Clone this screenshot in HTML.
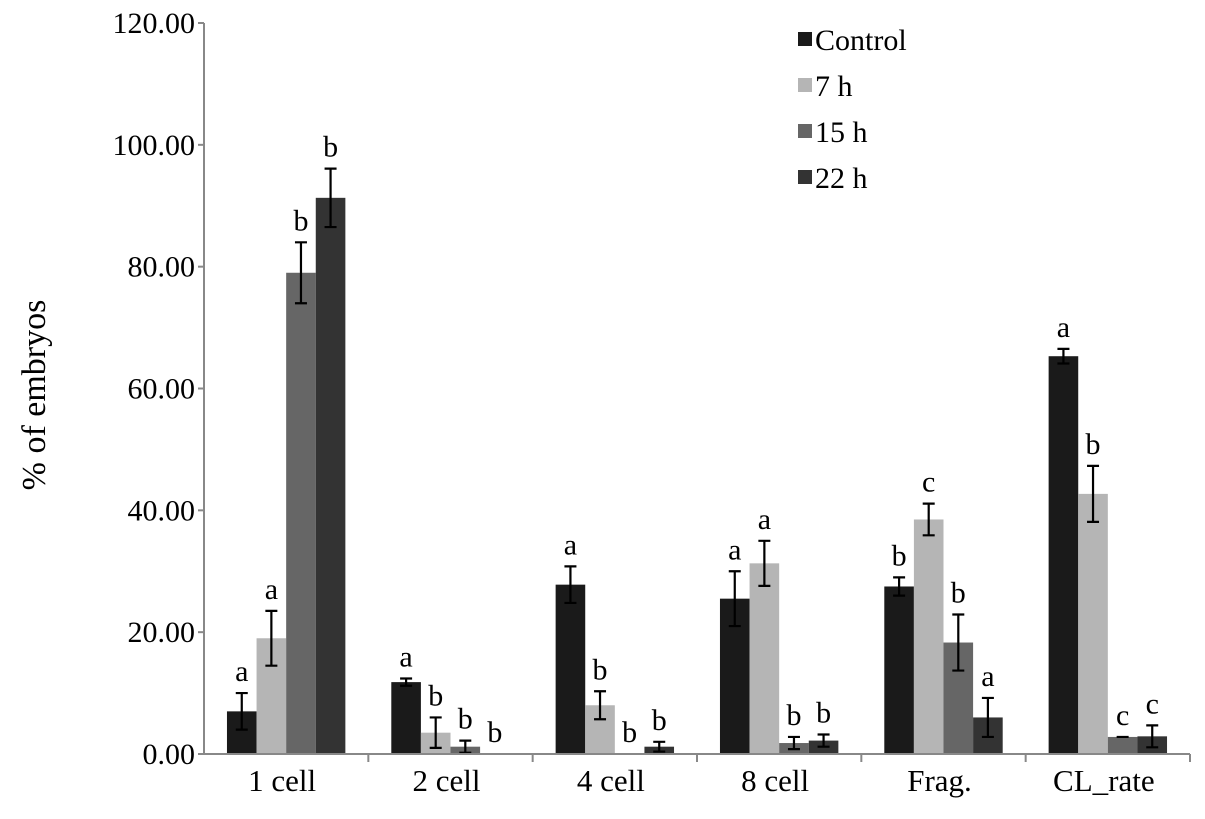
<!DOCTYPE html>
<html><head><meta charset="utf-8"><style>
body{margin:0;background:#fff}
text{font-family:"Liberation Serif",serif;fill:#000}
</style></head><body>
<svg id="chart" width="1205" height="814" xmlns="http://www.w3.org/2000/svg">
<g id="marks"></g>
</svg>
<script>
const categories=["1 cell","2 cell","4 cell","8 cell","Frag.","CL_rate"];
const seriesNames=["Control","7 h","15 h","22 h"];
const colors=["#1a1a1a","#b5b5b5","#666666","#333333"];
const controlVals=[7,11.8,27.8,25.5,27.5,65.3];
const h7Vals=[19,3.5,8,31.3,38.5,42.7];
const h15Vals=[79,1.2,0,1.8,18.3,2.8];
const h22Vals=[91.3,0,1.2,2.2,6,2.9];
const controlErr=[3,0.6,3,4.5,1.5,1.2];
const h7Err=[4.5,2.5,2.3,3.7,2.6,4.6];
const h15Err=[5,1,0,1,4.6,0];
const h22Err=[4.8,0,0.8,1,3.2,1.8];
const controlLet=["a","a","a","a","b","a"];
const h7Let=["a","b","b","a","c","b"];
const h15Let=["b","b","b","b","b","c"];
const h22Let=["b","b","b","b","a","c"];
const yTicks=[0,20,40,60,80,100,120];
const yTickLabels=["0.00","20.00","40.00","60.00","80.00","100.00","120.00"];

const vals=[controlVals,h7Vals,h15Vals,h22Vals];
const errs=[controlErr,h7Err,h15Err,h22Err];
const lets=[controlLet,h7Let,h15Let,h22Let];
const X0=204,X1=1190,Y0=754,Y1=23,YMAX=120;
const gw=(X1-X0)/categories.length, bw=29.6, pad=(gw-4*bw)/2;
const y=v=>Y0-(v/YMAX)*(Y0-Y1);
const xb=(c,s)=>X0+c*gw+pad+s*bw;
const NS="http://www.w3.org/2000/svg";
const g=document.getElementById('marks');
function mk(t,a){const e=document.createElementNS(NS,t);for(const k in a)e.setAttribute(k,a[k]);g.appendChild(e);return e;}

yTicks.forEach((t,i)=>{
 const l=mk('line',{x1:X0-6,x2:X0,y1:y(t),y2:y(t),stroke:'#888','stroke-width':2});
 
 
 const tx=mk('text',{x:195,y:y(t)+10,'text-anchor':'end','font-size':30});
 tx.textContent=yTickLabels[i];
 
 
});
vals.forEach((arr,s)=>{
 arr.forEach((v,c)=>{
  const x=xb(c,s);
  const r=mk('rect',{x:x,y:y(v),width:bw,height:Y0-y(v),fill:colors[s]});
  
  
  const e=errs[s][c], cx=x+bw/2;
  let top=y(v);
  if(v>0){
   const eg=mk('path',{d:`M${cx},${y(v+e)}V${y(Math.max(v-e,0))}M${cx-6},${y(v+e)}H${cx+6}M${cx-6},${y(Math.max(v-e,0))}H${cx+6}`,stroke:'#000','stroke-width':2.2,fill:'none'});
   
   
   top=y(v+e);
  }
  const lt=mk('text',{x:cx,y:top-12,'text-anchor':'middle','font-size':30});
  lt.textContent=lets[s][c];
  
  
 });
});
const ax=mk('path',{d:`M${X0},${Y1}V${Y0}H${X1}`,stroke:'#888','stroke-width':2,fill:'none'});


categories.forEach((c,i)=>{
 const tk=mk('line',{x1:X0+(i+1)*gw,x2:X0+(i+1)*gw,y1:Y0,y2:Y0+8,stroke:'#888','stroke-width':2});
 
 
 const t=mk('text',{x:X0+(i+0.5)*gw-4,y:791,'text-anchor':'middle','font-size':31});
 t.textContent=c;
 
 
});
const yt=mk('text',{x:0,y:0,'text-anchor':'middle','font-size':34,transform:'translate(45,395) rotate(-90)'});
yt.textContent="% of embryos";


seriesNames.forEach((n,i)=>{
 const yy=41+i*46;
 const sw=mk('rect',{x:798,y:yy-9,width:14,height:14,fill:colors[i]});
 
 
 const t=mk('text',{x:815,y:yy+9,'font-size':30});
 t.textContent=n;
 
 
});
</script>
</body></html>
